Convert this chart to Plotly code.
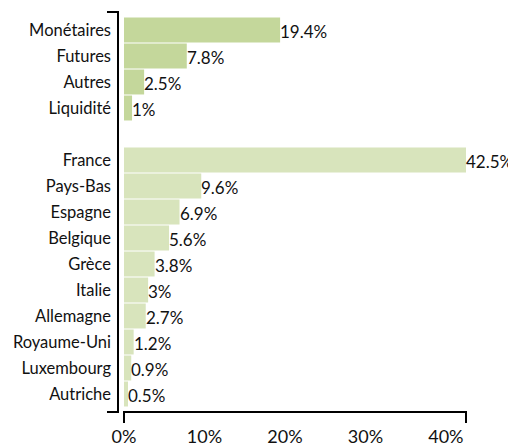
import plotly.graph_objects as go

# groupe 1 : types d'actifs
cat_type = ["Monétaires", "Futures", "Autres", "Liquidité"]
val_type = [19.4, 7.8, 2.5, 1]

# groupe 2 : pays
cat_pays = ["France", "Pays-Bas", "Espagne", "Belgique", "Grèce", "Italie",
            "Allemagne", "Royaume-Uni", "Luxembourg", "Autriche"]
val_pays = [42.5, 9.6, 6.9, 5.6, 3.8, 3, 2.7, 1.2, 0.9, 0.5]

spacer = " "
order = cat_type + [spacer] + cat_pays

# la page html ajoute une marge de 8px autour du graphique
W, H = 508, 438
ml, mt = 116, 4
pw, ph = 342, 400
mr, mb = W - ml - pw, H - mt - ph


def px_x(dx):
    return dx / pw


def px_y(dy):
    return dy / ph


fig = go.Figure()
fig.add_trace(go.Bar(
    y=cat_type, x=val_type, orientation="h",
    marker=dict(color="#c4d79b", line=dict(width=0)),
))
fig.add_trace(go.Bar(
    y=cat_pays, x=val_pays, orientation="h",
    marker=dict(color="#d8e4bc", line=dict(width=0)),
))

# étiquettes de valeur collées au bout des barres
for c, v in zip(cat_type + cat_pays, val_type + val_pays):
    fig.add_annotation(x=v, y=c, text=f"{v:g}%", showarrow=False,
                       xanchor="left", yanchor="middle", xshift=-2, yshift=-1,
                       font=dict(size=17, color="#111"))

pad = 5 / 26
n = len(order)
fig.update_layout(
    width=W, height=H,
    margin=dict(l=ml, r=mr, t=mt, b=mb, autoexpand=False),
    barmode="overlay", bargap=0.04,
    showlegend=False,
    plot_bgcolor="white", paper_bgcolor="white",
    font=dict(family="Lato", size=16, color="#111"),
)
fig.update_yaxes(
    type="category", categoryorder="array", categoryarray=order,
    range=[n - 0.5 + pad, -0.5 - pad],
    showgrid=False, zeroline=False, showline=False, ticks="",
    ticklabelstandoff=12, tickfont=dict(size=16.5), automargin=False,
)
fig.update_xaxes(
    range=[0, 42.5], dtick=10, ticksuffix="%",
    showgrid=False, zeroline=False, showline=False, ticks="",
    ticklabelstandoff=12, tickfont=dict(size=18), automargin=False,
)

# axes en forme de crochet
yx = px_x(-6)
yt = px_x(-17)
fig.add_shape(type="path", xref="paper", yref="paper",
              path=f"M {yt},1 L {yx},1 L {yx},0 L {yt},0",
              line=dict(color="black", width=2))
xb = px_y(-11)
fig.add_shape(type="path", xref="paper", yref="paper",
              path=f"M 0,{xb} L 0,0 L 1,0 L 1,{xb}",
              line=dict(color="black", width=2))

fig.write_html("out.html")
